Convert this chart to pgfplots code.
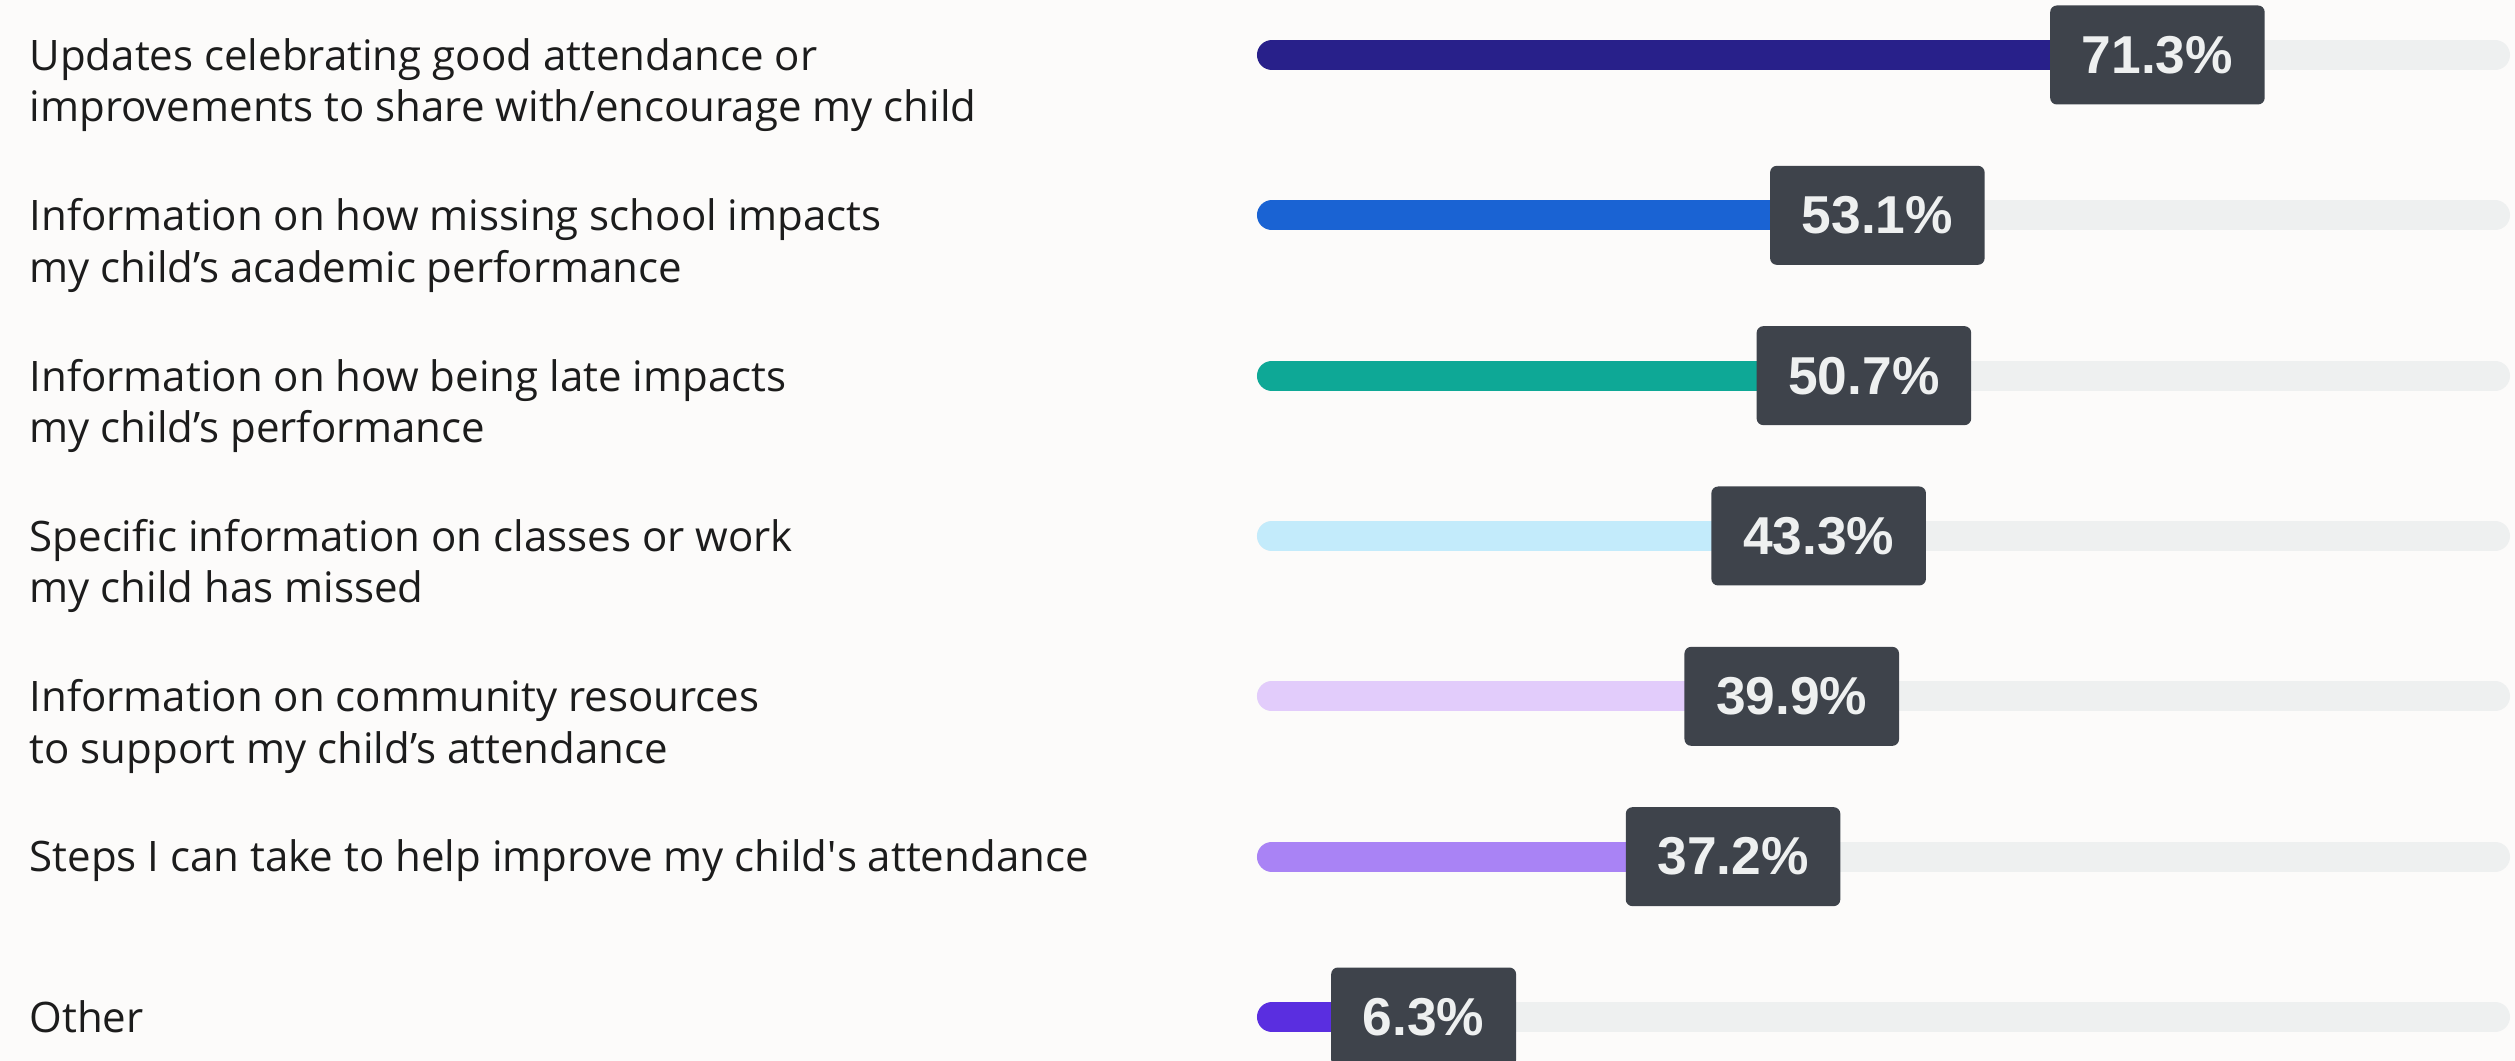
\documentclass[border=0pt]{standalone}
\usepackage{pgfplots}
\pgfplotsset{compat=1.18}
\usepackage{fontspec}
\setmainfont{Liberation Sans}
\newfontfamily\labelfont{Open Sans}
\definecolor{bgc}{HTML}{FCFBFA}
\definecolor{trackc}{HTML}{EEF0F0}
\definecolor{boxc}{HTML}{3E434B}
\definecolor{boxtext}{HTML}{EEF0F0}
\definecolor{txtc}{HTML}{1C1C1C}
\definecolor{c1}{HTML}{28208A}
\definecolor{c2}{HTML}{1A63D3}
\definecolor{c3}{HTML}{0EA896}
\definecolor{c4}{HTML}{C3EBFB}
\definecolor{c5}{HTML}{E2CCFB}
\definecolor{c6}{HTML}{A983F5}
\definecolor{c7}{HTML}{5A2EE0}
\begin{document}
\begin{tikzpicture}
\path[use as bounding box, fill=bgc] (-381.6pt,0pt) rectangle (372.9pt,318.3pt);
\begin{axis}[
  at={(0pt,0pt)}, anchor=south west,
  scale only axis, width=366.9pt, height=318.3pt,
  xmin=0, xmax=100, ymin=-0.2744, ymax=6.343,
  clip=false,
  axis line style={draw=none}, tick style={draw=none},
  xtick=\empty,
  ytick={0,1,2,3,4,5,6},
  yticklabels={
    {Other},
    {Steps I can take to help improve my child\textquotesingle s attendance},
    {Information on community resources\\to support my child’s attendance},
    {Specific information on classes or work\\my child has missed},
    {Information on how being late impacts\\my child’s performance},
    {Information on how missing school impacts\\my child’s academic performance},
    {Updates celebrating good attendance or\\improvements to share with/encourage my child}},
  yticklabel style={anchor=north west, align=left, inner sep=0pt, text=txtc,
    font=\labelfont\fontsize{12.6}{15.4}\selectfont, xshift=-372.9pt, yshift=5.2pt},
]
% tracks
\addplot[draw=trackc, line width=9pt, line cap=round] coordinates {(0,6) (100,6)};
\addplot[draw=trackc, line width=9pt, line cap=round] coordinates {(0,5) (100,5)};
\addplot[draw=trackc, line width=9pt, line cap=round] coordinates {(0,4) (100,4)};
\addplot[draw=trackc, line width=9pt, line cap=round] coordinates {(0,3) (100,3)};
\addplot[draw=trackc, line width=9pt, line cap=round] coordinates {(0,2) (100,2)};
\addplot[draw=trackc, line width=9pt, line cap=round] coordinates {(0,1) (100,1)};
\addplot[draw=trackc, line width=9pt, line cap=round] coordinates {(0,0) (100,0)};
% values
\addplot[draw=c1, line width=9pt, line cap=round] coordinates {(0,6) (71.3,6)};
\addplot[draw=c2, line width=9pt, line cap=round] coordinates {(0,5) (53.1,5)};
\addplot[draw=c3, line width=9pt, line cap=round] coordinates {(0,4) (50.7,4)};
\addplot[draw=c4, line width=9pt, line cap=round] coordinates {(0,3) (43.3,3)};
\addplot[draw=c5, line width=9pt, line cap=round] coordinates {(0,2) (39.9,2)};
\addplot[draw=c6, line width=9pt, line cap=round] coordinates {(0,1) (37.2,1)};
\addplot[draw=c7, line width=9pt, line cap=round] coordinates {(0,0) (6.3,0)};
% value labels
\addplot[only marks, mark=none, point meta=explicit,
  nodes near coords={\pgfmathprintnumber[fixed,precision=1,fixed zerofill,assume math mode=true]{\pgfplotspointmeta}\%},
  nodes near coords style={anchor=center, fill=boxc, text=boxtext, rounded corners=2pt,
    inner xsep=9.5pt, minimum height=29.7pt, font=\fontsize{16}{18}\selectfont\bfseries}]
  coordinates {(72.4,6) [71.3] (49.5,5) [53.1] (48.4,4) [50.7] (44.7,3) [43.3]
               (42.5,2) [39.9] (37.7,1) [37.2] (12.4,0) [6.3]};
\end{axis}
\end{tikzpicture}
\end{document}
